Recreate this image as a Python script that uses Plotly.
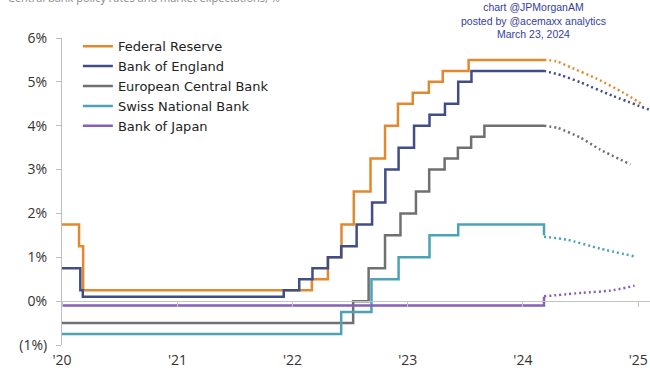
import plotly.graph_objects as go

# ---- data ----
fed_dates = ["2020-01-01", "2020-02-24", "2020-03-08", "2022-03-03", "2022-04-23", "2022-06-05",
             "2022-07-14", "2022-09-05", "2022-10-21", "2022-12-01", "2023-01-17", "2023-03-09",
             "2023-04-22", "2023-07-13", "2024-03-08"]
fed_rates = [1.75, 1.25, 0.25, 0.50, 1.00, 1.75, 2.50, 3.25, 4.00, 4.50, 4.75, 5.00, 5.25, 5.50, 5.50]

boe_dates = ["2020-01-01", "2020-02-28", "2020-03-07", "2021-12-04", "2022-01-22", "2022-03-05",
             "2022-04-23", "2022-06-04", "2022-07-23", "2022-09-10", "2022-10-22", "2022-12-03",
             "2023-01-21", "2023-03-11", "2023-04-29", "2023-06-10", "2023-07-22", "2024-03-08"]
boe_rates = [0.75, 0.25, 0.10, 0.25, 0.50, 0.75, 1.00, 1.25, 1.75, 2.25, 3.00, 3.50,
             4.00, 4.25, 4.50, 5.00, 5.25, 5.25]

ecb_dates = ["2020-01-01", "2022-07-12", "2022-08-30", "2022-10-21", "2022-12-09", "2023-01-27",
             "2023-03-10", "2023-04-28", "2023-06-09", "2023-07-21", "2023-09-01", "2024-03-08"]
ecb_rates = [-0.50, 0.00, 0.75, 1.50, 2.00, 2.50, 3.00, 3.25, 3.50, 3.75, 4.00, 4.00]

snb_dates = ["2020-01-01", "2022-06-04", "2022-09-08", "2022-12-03", "2023-03-11", "2023-06-10",
             "2024-03-08"]
snb_rates = [-0.75, -0.25, 0.50, 1.00, 1.50, 1.75, 1.50]

boj_dates = ["2020-01-01", "2024-03-08"]
boj_rates = [-0.10, 0.10]

# market expectations (dotted)
fed_exp_dates = ["2024-03-08", "2024-04-15", "2024-06-01", "2024-08-23", "2024-11-13", "2025-01-15"]
fed_exp_rates = [5.50, 5.47, 5.33, 5.07, 4.76, 4.48]
boe_exp_dates = ["2024-03-08", "2024-05-01", "2024-07-01", "2024-10-12", "2025-02-03"]
boe_exp_rates = [5.25, 5.15, 4.99, 4.68, 4.37]
ecb_exp_dates = ["2024-03-08", "2024-04-20", "2024-07-01", "2024-09-01", "2024-12-07"]
ecb_exp_rates = [4.00, 3.95, 3.73, 3.46, 3.12]
snb_exp_dates = ["2024-03-08", "2024-05-20", "2024-09-01", "2024-12-20"]
snb_exp_rates = [1.47, 1.40, 1.20, 1.02]
boj_exp_dates = ["2024-03-08", "2024-07-08", "2024-10-05", "2024-12-20"]
boj_exp_rates = [0.11, 0.19, 0.24, 0.35]

year_ticks = ["2020-01-01", "2021-01-01", "2022-01-01", "2023-01-01", "2024-01-01", "2025-01-01"]
year_labels = ["'20", "'21", "'22", "'23", "'24", "'25"]
y_ticks = [-1, 0, 1, 2, 3, 4, 5, 6]
y_labels = ["(1%)", "0%", "1%", "2%", "3%", "4%", "5%", "6%"]

x_range = ["2020-01-01", "2025-02-07"]

series = [
    ("Federal Reserve", fed_dates, fed_rates, fed_exp_dates, fed_exp_rates, "#E1892F"),
    ("Bank of England", boe_dates, boe_rates, boe_exp_dates, boe_exp_rates, "#414D87"),
    ("European Central Bank", ecb_dates, ecb_rates, ecb_exp_dates, ecb_exp_rates, "#707070"),
    ("Swiss National Bank", snb_dates, snb_rates, snb_exp_dates, snb_exp_rates, "#4CA3B6"),
    ("Bank of Japan", boj_dates, boj_rates, boj_exp_dates, boj_exp_rates, "#8660B8"),
]

fig = go.Figure()
for name, d, r, ed, er, col in series:
    xa = "x2" if name == "Bank of Japan" else "x"
    fig.add_trace(go.Scatter(x=d, y=r, mode="lines", name=name, xaxis=xa,
                             line=dict(color=col, width=2.5, shape="hv")))
for name, d, r, ed, er, col in series:
    fig.add_trace(go.Scatter(x=ed, y=er, mode="lines", name=name + " (expected)",
                             showlegend=False,
                             line=dict(color=col, width=2.5, dash="2px,3px", shape="spline", smoothing=0.6)))

font_main = "Open Sans, Liberation Sans, sans-serif"

fig.update_layout(
    width=650, height=372,
    margin=dict(l=62, r=0, t=38, b=27),
    paper_bgcolor="white", plot_bgcolor="white",
    font=dict(family=font_main, size=14, color="#333333"),
    showlegend=True,
    legend=dict(x=0.027, y=1.022, xanchor="left", yanchor="top",
                bgcolor="rgba(0,0,0,0)",
                font=dict(family="DejaVu Sans, Open Sans, sans-serif", size=13, color="#222222"),
                itemwidth=30, tracegroupgap=0),
    xaxis=dict(type="date", range=x_range, tickvals=year_ticks, ticktext=year_labels,
               showgrid=False, zeroline=False, showline=False, ticks="",
               ticklabelstandoff=5,
               tickfont=dict(size=14, color="#333333")),
    xaxis2=dict(type="date", range=x_range, overlaying="x", anchor="free", position=1/7,
                tickvals=year_ticks, showticklabels=False, ticks="outside", ticklen=5,
                tickcolor="#c4c4c4", showline=True, linecolor="#c4c4c4", linewidth=1,
                showgrid=False, zeroline=False),
    yaxis=dict(range=[-1, 6], tickvals=y_ticks, ticktext=y_labels, showgrid=False,
               zeroline=False, showline=True, linecolor="#bdbdbd", linewidth=1,
               ticks="outside", ticklen=5, tickcolor="#bdbdbd", ticklabelstandoff=6,
               tickfont=dict(size=14, color="#333333")),
)

fig.add_annotation(text="Central bank policy rates and market expectations, %",
                   xref="paper", yref="paper", x=-0.095, y=(345 + 2) / 307,
                   xanchor="left", yanchor="middle", showarrow=False,
                   font=dict(family=font_main, size=11, color="#8a8a8a"))
fig.add_annotation(text="chart @JPMorganAM<br>posted by @acemaxx analytics<br>March 23, 2024",
                   xref="paper", yref="paper", x=(533 - 62) / 588,
                   y=(345 - 21) / 307, xanchor="center", yanchor="middle", showarrow=False,
                   align="center",
                   font=dict(family="Liberation Sans, Arial, sans-serif", size=10.5, color="#34419E"))

fig.write_html("out.html")
